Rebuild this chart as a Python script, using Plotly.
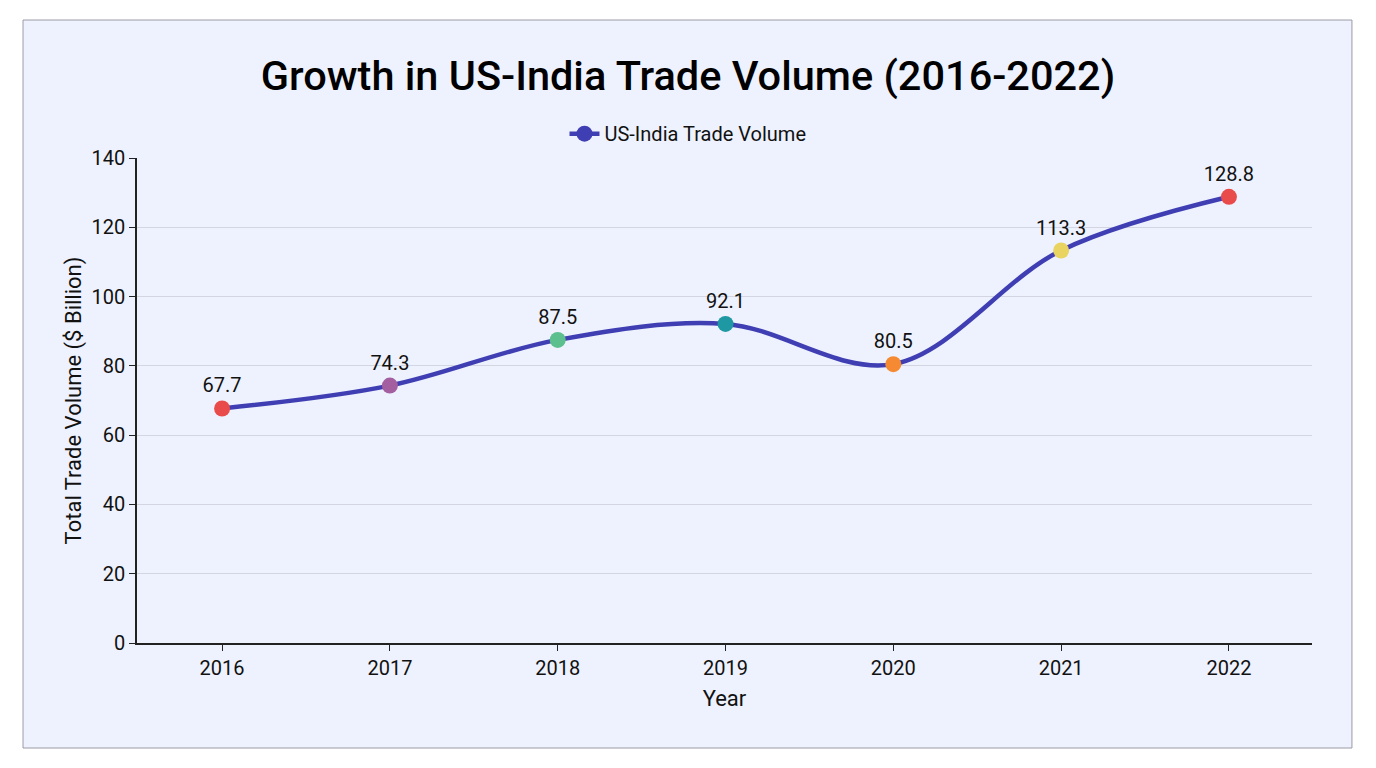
import plotly.graph_objects as go

years = ["2016", "2017", "2018", "2019", "2020", "2021", "2022"]
trade_volume = [67.7, 74.3, 87.5, 92.1, 80.5, 113.3, 128.8]
marker_colors = ["#E94B4B", "#A45FA0", "#5CBF8E", "#1E98A2", "#F58A32", "#E9D462", "#E94B4B"]
y_ticks = [0, 20, 40, 60, 80, 100, 120, 140]
series_name = "US-India Trade Volume"
line_color = "#3F3FB3"

FONT = "Roboto, 'Noto Sans', sans-serif"

fig = go.Figure()
fig.add_trace(go.Scatter(
    x=years, y=trade_volume,
    mode="lines+markers+text",
    name=series_name, showlegend=False,
    line=dict(color=line_color, width=4.5, shape="spline"),
    marker=dict(size=16, color=marker_colors, line=dict(width=0)),
    text=[f"{v:.1f}" for v in trade_volume],
    textposition="top center",
    textfont=dict(size=20, color="#111111", family=FONT),
))
# legend entry (single blue symbol)
fig.add_trace(go.Scatter(
    x=[None], y=[None], mode="lines+markers", name=series_name,
    line=dict(color=line_color, width=4.5),
    marker=dict(size=16, color=line_color),
))

fig.add_shape(type="rect", xref="paper", yref="paper",
              x0=-0.097, x1=1.034, y0=-0.2165, y1=1.2845,
              fillcolor="#EEF2FE", line=dict(color="#9A9AA6", width=1), layer="below")

fig.update_layout(
    width=1376, height=768,
    margin=dict(l=137, r=64, t=158, b=125, autoexpand=False),
    paper_bgcolor="white",
    plot_bgcolor="rgba(0,0,0,0)",
    font=dict(family=FONT, color="#111111", size=20),
    title=dict(text="Growth in US-India Trade Volume (2016-2022)",
               x=0.5, xref="container", xanchor="center", y=0.902, yanchor="middle",
               font=dict(size=41.5, family=FONT, color="#000000", weight=500)),
    legend=dict(orientation="h", x=0.5, xanchor="center", xref="container",
                y=0.826, yref="container", yanchor="middle",
                font=dict(size=20, family=FONT), bgcolor="rgba(0,0,0,0)"),
    showlegend=True,
)
fig.update_xaxes(
    title=dict(text="Year", font=dict(size=22), standoff=12),
    type="category", range=[-0.507, 6.495],
    showline=True, linecolor="#222222", linewidth=1.5,
    ticks="outside", ticklen=6, tickcolor="#222222",
    showgrid=False, tickfont=dict(size=20),
)
fig.update_yaxes(
    title=dict(text="Total Trade Volume ($ Billion)", font=dict(size=22), standoff=4),
    range=[0, 140], tickvals=y_ticks,
    showline=True, linecolor="#222222", linewidth=1.5,
    ticks="outside", ticklen=6, tickcolor="#222222",
    showgrid=True, gridcolor="#D3D6E2", gridwidth=1,
    zeroline=False, tickfont=dict(size=20),
)

fig.write_html("out.html")
